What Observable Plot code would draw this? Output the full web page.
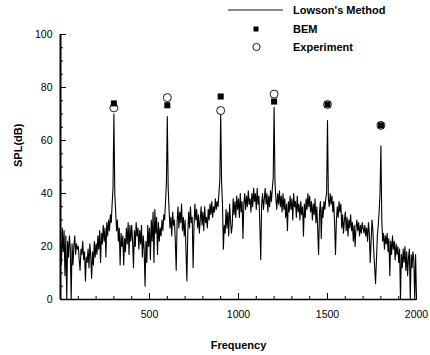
<!DOCTYPE html>
<html><head><meta charset="utf-8">
<script src="https://cdn.jsdelivr.net/npm/d3@7"></script>
<script src="https://cdn.jsdelivr.net/npm/@observablehq/plot@0.6"></script>
<style>
body{margin:0;background:#fff;font-family:"Liberation Sans",Arial,sans-serif;}
#wrap{position:relative;width:430px;height:355px;}
#legend{position:absolute;left:0;top:0;}
#legend text{font-family:"Liberation Sans",Arial,sans-serif;font-weight:bold;font-size:11px;fill:#000;}
</style></head><body>
<div id="wrap"><div id="chart"></div>
<svg id="legend" width="430" height="60">
  <line x1="228" x2="283" y1="10" y2="10" stroke="#111" stroke-width="1"></line>
  <text x="293" y="14">Lowson's Method</text>
  <rect x="253.5" y="26.5" width="5" height="5" fill="#000"></rect>
  <text x="293" y="33">BEM</text>
  <circle cx="256.5" cy="47" r="3.6" fill="#fff" stroke="#000" stroke-width="0.9"></circle>
  <text x="293" y="51">Experiment</text>
</svg></div>
<script>
// Lowson's Method spectrum, 5 Hz steps from 0 to 2000 Hz
const step = 5;
const lowsonSPL = [
  22,13,27,18,26,9,24,0,22,16,24,19,0,21,13,20,24,17,21,19,
  20,15,11,19,17,22,15,18,7,16,14,19,12,21,16,8,18,13,22,16,
  21,17,24,19,26,14,25,21,28,22,27,16,29,24,30,26,32,29,36,42,
  70,40,33,26,30,22,27,13,25,20,24,13,23,18,27,21,29,17,28,22,
  28,22,12,26,20,29,24,27,19,26,21,28,16,24,19,5,22,14,28,20,
  27,15,30,22,33,14,34,25,31,17,29,22,27,24,30,26,32,30,37,44,
  69,42,34,27,31,24,33,28,30,22,11,29,35,27,33,29,36,26,31,24,
  30,18,7,25,33,27,35,29,31,12,28,36,30,34,27,32,25,30,35,28,
  33,26,35,29,31,27,34,30,36,32,37,31,35,33,38,34,37,35,40,45,
  70,44,36,19,28,25,34,27,33,24,36,30,25,28,38,32,37,31,39,34,
  38,31,40,33,37,23,36,40,34,39,35,41,36,38,33,40,35,42,37,40,
  34,42,36,39,28,15,36,40,34,38,42,36,40,33,39,35,41,37,42,46,
  72.5,44,38,34,40,36,41,35,39,33,40,34,38,31,36,26,37,33,39,34,
  38,30,40,35,37,31,39,33,36,30,37,32,35,24,36,31,38,34,40,35,
  39,33,37,30,36,32,38,29,35,26,17,33,37,23,35,31,37,34,38,40,
  67.5,38,35,40,36,39,33,37,28,17,30,35,31,37,33,36,27,32,25,30,
  33,26,31,24,30,27,32,26,29,22,28,20,27,30,26,29,24,28,25,29,
  27,25,28,24,27,22,29,25,14,22,30,26,18,12,6,15,24,28,33,40,
  58,30,22,25,19,24,21,25,18,23,9,22,17,24,19,22,15,21,17,20,
  14,19,0,17,12,19,14,20,11,18,9,16,19,0,17,12,18,15,0,17,
  0
];
const harmonics = [300, 600, 900, 1200, 1500, 1800];
const bemSPL = [74, 73.3, 76.6, 74.7, 73.6, 65.7];
const expSPL = [72.3, 76.2, 71.3, 77.5, 73.6, 65.7];
const xTicks = [500, 1000, 1500, 2000];
const xMinor = d3.range(0, 2001, 100);
const yTicks = [0, 20, 40, 60, 80, 100];
const yMinor = d3.range(0, 101, 5);

const spectrum = lowsonSPL.map((v, i) => ({f: i * step, spl: v}));
const bem = harmonics.map((f, i) => ({f, spl: bemSPL[i]}));
const exp = harmonics.map((f, i) => ({f, spl: expSPL[i]}));

const chart = Plot.plot({
  width: 430, height: 355,
  marginLeft: 60, marginRight: 14, marginTop: 34, marginBottom: 56,
  style: {fontFamily: "Liberation Sans, Arial, sans-serif", fontSize: "10.5px", color: "#000", background: "#fff"},
  x: {domain: [0, 2000]},
  y: {domain: [0, 100]},
  marks: [
    Plot.axisX({ticks: xMinor, tickSize: -3, text: null, label: null}),
    Plot.axisX({ticks: xTicks, tickSize: -6, text: null, label: null}),
    Plot.axisX({ticks: xTicks, tickSize: 0, tickPadding: 11, tickFormat: "d", label: null}),
    Plot.axisY({ticks: yMinor, tickSize: -3, text: null, label: null}),
    Plot.axisY({ticks: yTicks, tickSize: -6, text: null, label: null}),
    Plot.axisY({ticks: yTicks, tickSize: 0, tickPadding: 8, tickFormat: "d", label: null}),
    Plot.text(["Frequency"], {frameAnchor: "bottom", dy: 49, lineAnchor: "bottom", fontWeight: "bold", fontSize: 11}),
    Plot.text(["SPL(dB)"], {frameAnchor: "left", dx: -42, rotate: -90, fontWeight: "bold", fontSize: 11}),
    Plot.line(spectrum, {x: "f", y: "spl", stroke: "#000", strokeWidth: 1.1}),
    Plot.ruleY([0], {stroke: "#000", strokeWidth: 1.5}),
    Plot.ruleX([0], {stroke: "#000", strokeWidth: 2}),
    Plot.dot(exp, {x: "f", y: "spl", r: 4, fill: "white", stroke: "black", strokeWidth: 0.9}),
    Plot.dot(bem, {x: "f", y: "spl", symbol: "square", r: 3.4, fill: "black", stroke: "none"})
  ]
});
document.getElementById("chart").appendChild(chart);
</script>
</body></html>
